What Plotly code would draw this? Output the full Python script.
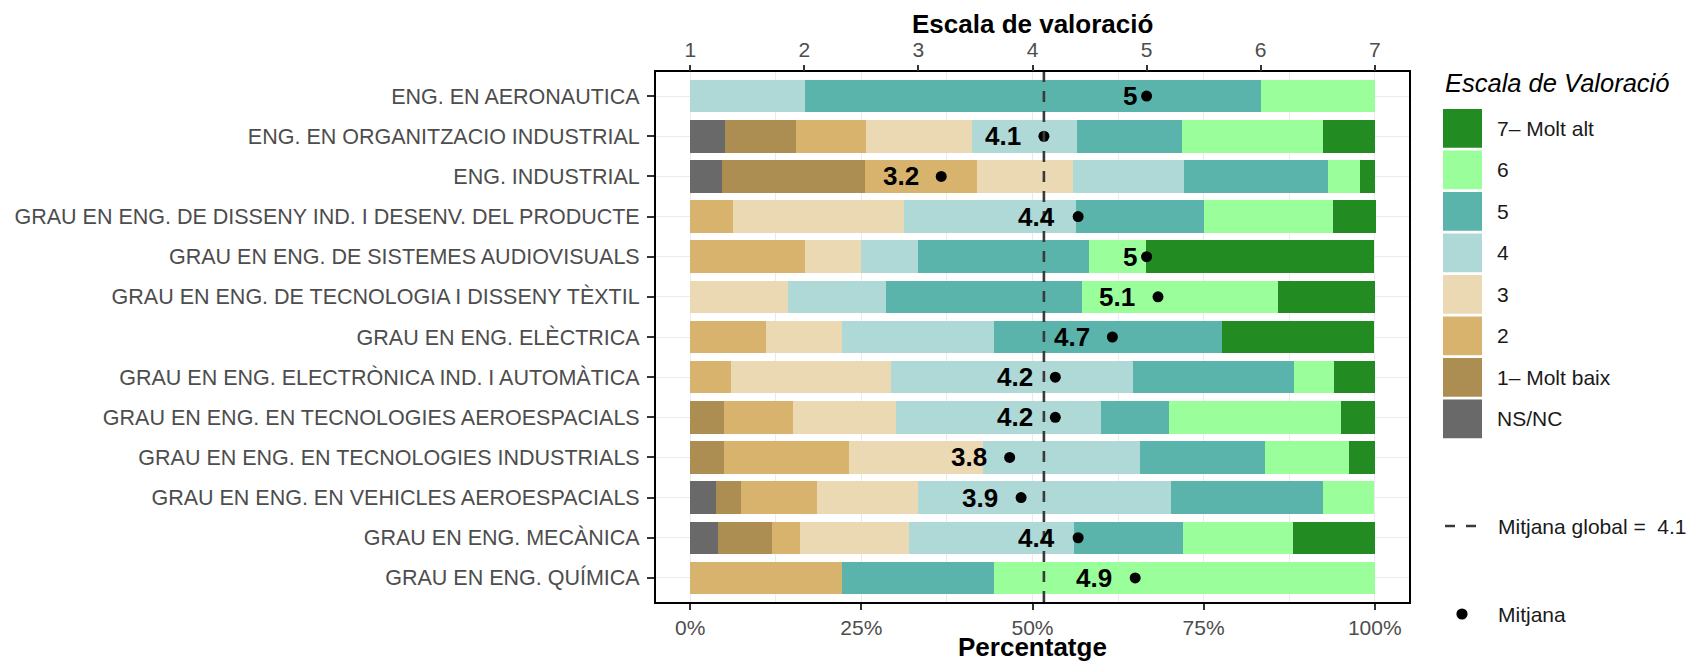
import plotly.graph_objects as go

# ---------------- data ----------------
categories = [
    "ENG. EN AERONAUTICA",
    "ENG. EN ORGANITZACIO INDUSTRIAL",
    "ENG. INDUSTRIAL",
    "GRAU EN ENG. DE DISSENY IND. I DESENV. DEL PRODUCTE",
    "GRAU EN ENG. DE SISTEMES AUDIOVISUALS",
    "GRAU EN ENG. DE TECNOLOGIA I DISSENY TÈXTIL",
    "GRAU EN ENG. ELÈCTRICA",
    "GRAU EN ENG. ELECTRÒNICA IND. I AUTOMÀTICA",
    "GRAU EN ENG. EN TECNOLOGIES AEROESPACIALS",
    "GRAU EN ENG. EN TECNOLOGIES INDUSTRIALS",
    "GRAU EN ENG. EN VEHICLES AEROESPACIALS",
    "GRAU EN ENG. MECÀNICA",
    "GRAU EN ENG. QUÍMICA",
]

pct_nsnc = [0, 5.1, 4.7, 0, 0, 0, 0, 0, 0, 0, 3.7, 4.0, 0]
pct_1 = [0, 10.3, 20.9, 0, 0, 0, 0, 0, 5.0, 5.0, 3.7, 8.0, 0]
pct_2 = [0, 10.3, 16.3, 6.3, 16.7, 0, 11.1, 5.9, 10.0, 18.2, 11.1, 4.0, 22.2]
pct_3 = [0, 15.4, 14.0, 25.0, 8.3, 14.3, 11.1, 23.5, 15.0, 19.5, 14.8, 16.0, 0]
pct_4 = [16.7, 15.4, 16.3, 25.0, 8.3, 14.3, 22.2, 35.3, 30.0, 23.0, 37.0, 24.0, 0]
pct_5 = [66.7, 15.4, 20.9, 18.8, 25.0, 28.6, 33.3, 23.5, 10.0, 18.3, 22.2, 16.0, 22.2]
pct_6 = [16.7, 20.5, 4.7, 18.8, 8.3, 28.6, 0, 5.9, 25.0, 12.2, 7.4, 16.0, 55.6]
pct_7 = [0, 7.7, 2.3, 6.3, 33.3, 14.3, 22.2, 5.9, 5.0, 3.8, 0, 12.0, 0]

means = [5.0, 4.1, 3.2, 4.4, 5.0, 5.1, 4.7, 4.2, 4.2, 3.8, 3.9, 4.4, 4.9]
global_mean = 4.1

level_names = ["NS/NC", "1\u2013 Molt baix", "2", "3", "4", "5", "6", "7\u2013 Molt alt"]
level_colors = ["#696969", "#AC8E52", "#D8B36E", "#EBD9B3", "#AED9D6",
                "#5AB4AC", "#9AFF9A", "#228B22"]
level_values = [pct_nsnc, pct_1, pct_2, pct_3, pct_4, pct_5, pct_6, pct_7]

pct_ticks = [0, 25, 50, 75, 100]
pct_ticktext = ["0%", "25%", "50%", "75%", "100%"]
scale_ticks = [1, 2, 3, 4, 5, 6, 7]

# ---------------- geometry helpers ----------------
W, H = 1692, 663
L, R, T, B = 656, 1409, 72, 602


def px(xp):
    return (xp - L) / (R - L)


def py(yp):
    return (B - yp) / (B - T)


FONT = "Liberation Sans, Arial, Helvetica, sans-serif"
GRAY = "#4D4D4D"

fig = go.Figure()

for name, col, vals in zip(level_names, level_colors, level_values):
    fig.add_trace(go.Bar(
        y=categories, x=vals, orientation="h", name=name,
        marker=dict(color=col, line=dict(width=0)),
        width=0.81, showlegend=False,
    ))

# mean points on the 1-7 scale axis
fig.add_trace(go.Scatter(
    x=means, y=categories, xaxis="x2", mode="markers",
    marker=dict(color="black", size=11), showlegend=False,
))

annotations = []
label_size = 26
for m, c in zip(means, categories):
    txt = f"{m:g}"
    w = label_size * (0.556 * sum(ch.isdigit() for ch in txt) + 0.278 * txt.count("."))
    annotations.append(dict(
        x=m, y=c, xref="x2", yref="y", text=txt, showarrow=False,
        xanchor="right", yanchor="middle", xshift=-0.6 * w, yshift=0,
        borderpad=0,
        font=dict(family=FONT, size=label_size, color="black", weight="bold"),
    ))

# axis titles
annotations.append(dict(
    x=0.5, y=py(24), xref="paper", yref="paper", text="Escala de valoració",
    showarrow=False, xanchor="center", yanchor="middle",
    font=dict(family=FONT, size=26, color="black", weight="bold"),
))
annotations.append(dict(
    x=0.5, y=py(647), xref="paper", yref="paper", text="Percentatge",
    showarrow=False, xanchor="center", yanchor="middle",
    font=dict(family=FONT, size=26, color="black", weight="bold"),
))

shapes = []
# global mean dashed line
shapes.append(dict(
    type="line", xref="x2", yref="y domain", x0=global_mean, x1=global_mean,
    y0=0, y1=1, line=dict(color="#3A3A3A", width=2.6, dash="11px,9px"),
    layer="above",
))

# legend: title
annotations.append(dict(
    x=px(1443), y=py(83), xref="paper", yref="paper",
    text="<i>Escala de Valoració</i>", showarrow=False,
    xanchor="left", yanchor="middle",
    font=dict(family=FONT, size=25.5, color="black"),
))
# legend: keys
key_top0, key_pitch, key_h = 109, 41.5, 38.8
for i, idx in enumerate(range(len(level_names) - 1, -1, -1)):
    top = key_top0 + i * key_pitch
    shapes.append(dict(
        type="rect", xref="paper", yref="paper",
        x0=px(1443), x1=px(1482), y0=py(top + key_h), y1=py(top),
        fillcolor=level_colors[idx], line=dict(width=0), layer="above",
    ))
    annotations.append(dict(
        x=px(1495), y=py(top + key_h / 2), xref="paper", yref="paper",
        text=level_names[idx], showarrow=False, xanchor="left", yanchor="middle",
        font=dict(family=FONT, size=21, color="#1A1A1A"),
    ))

# legend: global mean line
shapes.append(dict(
    type="line", xref="paper", yref="paper", x0=px(1445), x1=px(1477),
    y0=py(526), y1=py(526), line=dict(color="#3A3A3A", width=2.6, dash="10px,11px"),
))
annotations.append(dict(
    x=px(1496), y=py(526), xref="paper", yref="paper",
    text=f"Mitjana global = \u00a0{global_mean:g}", showarrow=False,
    xanchor="left", yanchor="middle",
    font=dict(family=FONT, size=21, color="#1A1A1A"),
))
# legend: mean dot
rdot = 5.6
shapes.append(dict(
    type="circle", xref="paper", yref="paper",
    x0=px(1462 - rdot), x1=px(1462 + rdot), y0=py(614 + rdot), y1=py(614 - rdot),
    fillcolor="black", line=dict(width=0),
))
annotations.append(dict(
    x=px(1496), y=py(614), xref="paper", yref="paper", text="Mitjana",
    showarrow=False, xanchor="left", yanchor="middle",
    font=dict(family=FONT, size=21, color="#1A1A1A"),
))

fig.update_layout(
    width=W, height=H,
    margin=dict(l=L, r=W - R, t=T, b=H - B, pad=0),
    paper_bgcolor="white", plot_bgcolor="white",
    barmode="stack", bargap=0,
    showlegend=False,
    font=dict(family=FONT, size=21, color=GRAY),
    xaxis=dict(
        range=[-5, 105], tickvals=pct_ticks, ticktext=pct_ticktext,
        showgrid=True, gridcolor="#EBEBEB", gridwidth=1.2,
        minor=dict(dtick=12.5, tick0=0, showgrid=True, gridcolor="#EBEBEB", gridwidth=0.8),
        showline=True, mirror=True, linecolor="black", linewidth=2,
        ticks="outside", ticklen=6, tickwidth=2, tickcolor="#333333",
        tickfont=dict(family=FONT, size=21, color=GRAY),
        zeroline=False,
    ),
    xaxis2=dict(
        overlaying="x", side="top",
        range=[1 - 0.05 * 6, 1 + 1.05 * 6], tickvals=scale_ticks,
        showgrid=False, zeroline=False, showline=False,
        ticks="outside", ticklen=6, tickwidth=2, tickcolor="#333333",
        tickfont=dict(family=FONT, size=21, color=GRAY),
    ),
    yaxis=dict(
        type="category", categoryorder="array", categoryarray=categories,
        range=[len(categories) - 1 + 0.6, -0.6],
        showgrid=True, gridcolor="#EBEBEB", gridwidth=1.2,
        showline=True, mirror=True, linecolor="black", linewidth=2,
        ticks="outside", ticklen=7, tickwidth=2, tickcolor="#333333",
        tickfont=dict(family=FONT, size=21.5, color=GRAY),
        ticklabelstandoff=3,
        zeroline=False,
    ),
    annotations=annotations,
    shapes=shapes,
)

fig.write_html(
    "out.html",
    config={"displayModeBar": False},
    post_script="document.body.style.margin='0';document.body.style.overflow='hidden';",
)
